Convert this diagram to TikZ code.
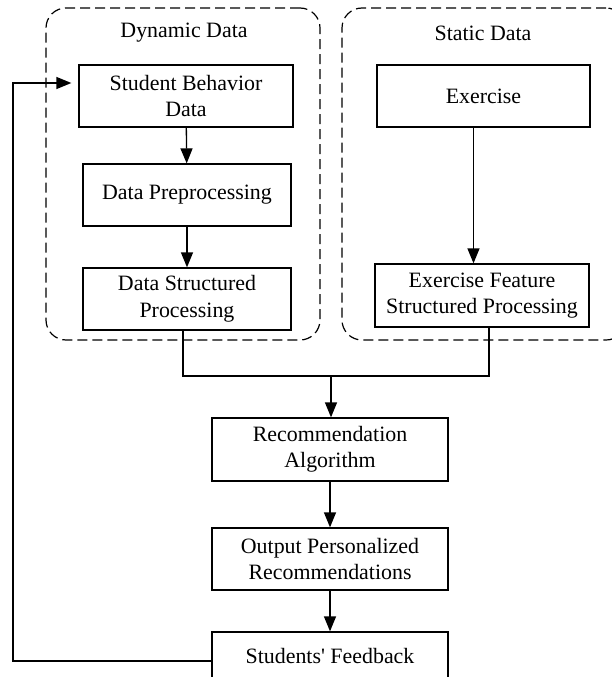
\documentclass[tikz,border=0pt]{standalone}
\usepackage{fontspec}
\setmainfont{Liberation Serif}
\usetikzlibrary{arrows.meta,calc}
\begin{document}
\begin{tikzpicture}[x=1pt,y=-1pt,
  txt/.style={font=\fontsize{21.9}{26.5}\selectfont},
  box/.style={txt,draw,line width=1.3pt,align=center,inner sep=0pt},
  group/.style={draw,dash pattern=on 10pt off 5pt,line width=1.2pt,rounded corners=20pt,inner sep=0pt},
  arr/.style={-{Triangle[length=15pt,width=12pt]},line width=1.3pt},
  link/.style={line width=1.3pt}]
\useasboundingbox (0,0) rectangle (612,677);
\clip (0,0) rectangle (612,677);

% dashed groups
\node[group,minimum width=274pt,minimum height=332pt] (dyn) at (183,174) {};
\node[group,minimum width=284pt,minimum height=332pt] (sta) at (484,174) {};
\node[txt] (dynlbl) at (184,33) {Dynamic Data};
\node[txt] (stalbl) at (483,33) {Static Data};

% dynamic data chain
\node[box,minimum width=214pt,minimum height=62pt] (sbd) at (186,96) {Student Behavior\\Data};
\node[box,minimum width=208pt,minimum height=62pt] (dp) at (187,195) {Data Preprocessing};
\node[box,minimum width=208pt,minimum height=62pt] (dsp) at (187,299) {Data Structured\\Processing};

% static data chain
\node[box,minimum width=213pt,minimum height=62pt] (ex) at (483.5,96) {Exercise};
\node[box,minimum width=214pt,minimum height=63pt] (efs) at (482,295.5) {Exercise Feature\\Structured Processing};

% recommendation chain
\node[box,minimum width=236pt,minimum height=63pt] (rec) at (330,449.5) {Recommendation\\Algorithm};
\node[box,minimum width=236pt,minimum height=62pt] (out) at (330,559) {Output Personalized\\Recommendations};
\node[box,minimum width=236pt,minimum height=48pt] (fb) at (330,656) {Students\textquotesingle{} Feedback};

\coordinate (merge) at (331,376);
\coordinate (loopL) at (13,83);

\draw[arr] (sbd) -- (dp);
\draw[arr] (dp) -- (dsp);
\draw[arr] ([xshift=-10pt]ex.south) -- ([xshift=-10pt]ex.south |- efs.north);

\draw[link] ([xshift=-4pt]dsp.south) |- (merge) -| ([xshift=7pt]efs.south);
\draw[arr] (merge) -- (merge |- rec.north);
\draw[arr] (rec) -- (out);
\draw[arr] (out) -- (fb);

% feedback loop back to the behaviour data
\draw[arr,shorten >=7pt] ([yshift=-5pt]fb.west) -| (loopL) -- (loopL -| sbd.west);
\end{tikzpicture}
\end{document}
